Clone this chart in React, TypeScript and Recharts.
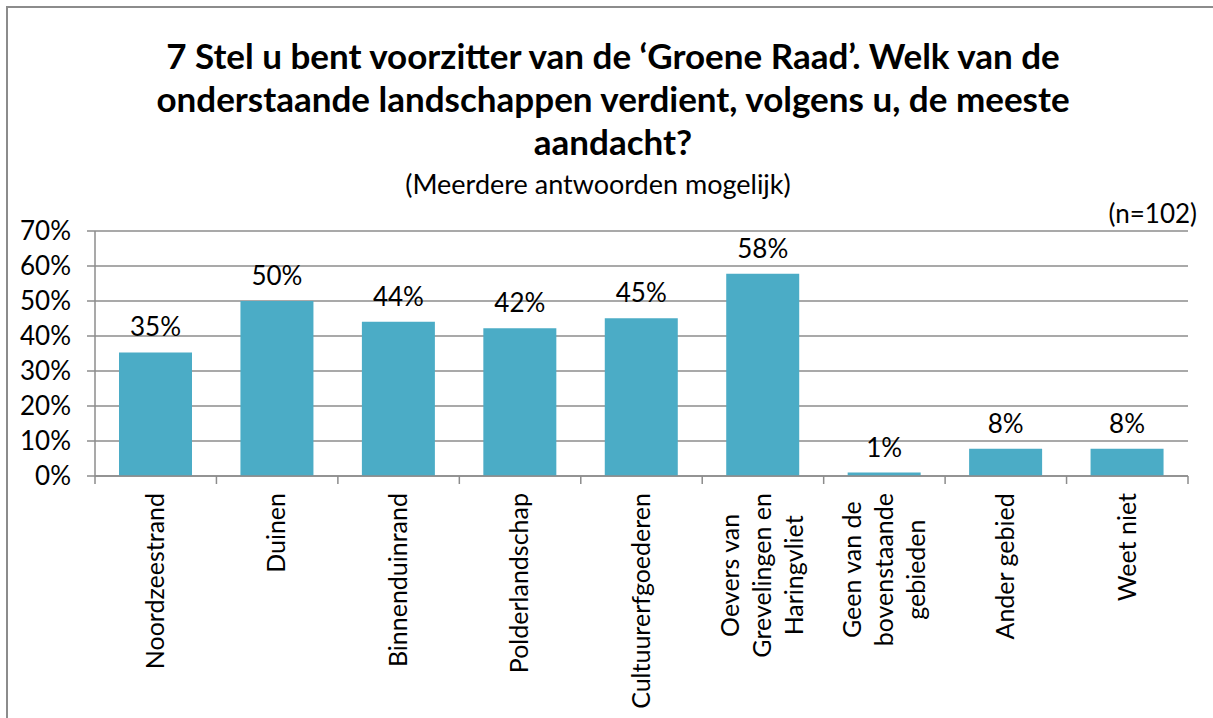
import { BarChart, Bar, CartesianGrid, XAxis, YAxis, LabelList } from 'recharts';

const categories = [
  'Noordzeestrand',
  'Duinen',
  'Binnenduinrand',
  'Polderlandschap',
  'Cultuurerfgoederen',
  'Oevers van\nGrevelingen en\nHaringvliet',
  'Geen van de\nbovenstaande\ngebieden',
  'Ander gebied',
  'Weet niet',
];
const percentages = [35.3, 50.0, 44.1, 42.2, 45.1, 57.8, 1.0, 7.8, 7.8];
const yTicks = [0, 10, 20, 30, 40, 50, 60, 70];

const titleLines = [
  '7 Stel u bent voorzitter van de \u2018Groene Raad\u2019. Welk van de',
  'onderstaande landschappen verdient, volgens u, de meeste',
  'aandacht?',
];
const subtitle = '(Meerdere antwoorden mogelijk)';
const sampleNote = '(n=102)';

const data = categories.map((c, i) => ({ name: c, value: percentages[i] }));

const FONT = 'Lato, Calibri, sans-serif';
const W = 1213;
const H = 718;
const M = { top: 231, right: 25, left: 0, bottom: 0 };
const Y_W = 95;
const X_H = 242;
const BAND = (W - M.left - M.right - Y_W) / categories.length;
const GRAY = '#8c8c8c';
const LABEL_SIZE = 25;

let ctx: CanvasRenderingContext2D | null = null;
const measure = (s: string) => {
  if (!ctx) {
    ctx = document.createElement('canvas').getContext('2d');
  }
  if (!ctx) return s.length * LABEL_SIZE * 0.5;
  ctx.font = `${LABEL_SIZE}px ${FONT}`;
  return ctx.measureText(s).width;
};

const XTick = ({ x, y, payload, index }: any) => {
  const lines: string[] = String(payload.value).split('\n');
  const maxW = Math.max(...lines.map(measure));
  const axisY = y - 17;
  const left = x - BAND / 2;
  const lineGap = 32;
  const cy = y + maxW / 2;
  return (
    <g>
      <line x1={left} x2={left} y1={axisY} y2={axisY + 8} stroke={GRAY} strokeWidth={1.5} />
      {index === categories.length - 1 && (
        <line x1={x + BAND / 2} x2={x + BAND / 2} y1={axisY} y2={axisY + 8} stroke={GRAY} strokeWidth={1.5} />
      )}
      {lines.map((ln, i) => {
        const cx = x + (i - (lines.length - 1) / 2) * lineGap + LABEL_SIZE * 0.33;
        return (
          <text
            key={i}
            x={0}
            y={0}
            transform={`translate(${cx},${cy}) rotate(-90)`}
            textAnchor="middle"
            fontSize={LABEL_SIZE}
            fontFamily={FONT}
            fill="#000"
          >
            {ln}
          </text>
        );
      })}
    </g>
  );
};

const YTick = ({ x, y, payload }: any) => (
  <text x={x} y={y} dy={9} textAnchor="end" fontSize={26} fontFamily={FONT} fill="#000">
    {payload.value}%
  </text>
);

export default function App() {
  return (
    <div style={{ position: 'fixed', left: 0, top: 0, width: W, height: H, overflow: 'hidden', background: '#fff' }}>
      <div
        style={{
          position: 'absolute',
          left: 6,
          top: 6,
          width: W + 40,
          height: H + 40,
          border: `2px solid ${GRAY}`,
          boxSizing: 'border-box',
        }}
      />
      <div
        style={{
          position: 'absolute',
          left: 0,
          top: 34,
          width: 1226,
          textAlign: 'center',
          fontFamily: FONT,
          fontWeight: 700,
          fontSize: 35,
          lineHeight: '43px',
          color: '#000',
        }}
      >
        {titleLines.map((t) => (
          <div key={t}>{t}</div>
        ))}
      </div>
      <div
        style={{
          position: 'absolute',
          left: 0,
          top: 169,
          width: 1196,
          textAlign: 'center',
          fontFamily: FONT,
          fontSize: 27,
          lineHeight: '30px',
        }}
      >
        {subtitle}
      </div>
      <div
        style={{
          position: 'absolute',
          right: W - 1197,
          top: 198,
          fontFamily: FONT,
          fontSize: 26,
          lineHeight: '30px',
        }}
      >
        {sampleNote}
      </div>
      <div style={{ position: 'absolute', left: 0, top: 0 }}>
        <BarChart width={W} height={H} data={data} margin={M} barSize={73}>
          <CartesianGrid horizontal vertical={false} stroke={GRAY} strokeWidth={1.5} />
          <XAxis
            dataKey="name"
            height={X_H}
            interval={0}
            tickLine={false}
            axisLine={{ stroke: GRAY, strokeWidth: 1.5 }}
            tickSize={8}
            tickMargin={9}
            tick={<XTick />}
          />
          <YAxis
            width={Y_W}
            domain={[0, 70]}
            ticks={yTicks}
            interval={0}
            tickSize={8}
            tickMargin={16}
            axisLine={{ stroke: GRAY, strokeWidth: 1.5 }}
            tickLine={{ stroke: GRAY, strokeWidth: 1.5 }}
            tick={<YTick />}
          />
          <Bar dataKey="value" fill="#4bacc6" isAnimationActive={false}>
            <LabelList
              dataKey="value"
              position="top"
              offset={16}
              fontSize={26}
              fontFamily={FONT}
              fill="#000"
              formatter={(v: any) => `${Math.round(Number(v))}%`}
            />
          </Bar>
        </BarChart>
      </div>
    </div>
  );
}
